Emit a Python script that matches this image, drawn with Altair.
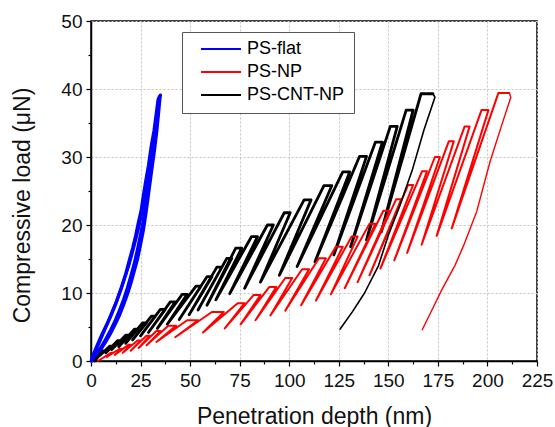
import altair as alt
import pandas as pd

# ---------------- PS-flat: near-elastic response, repeated load/unload traces ----------------
flat_up_depth = [0.0, 1.5, 3.5, 5.5, 8.0, 10.5, 13.0, 15.5, 17.5, 19.5, 21.0, 22.5, 24.0, 25.2,
                 26.5, 27.5, 29.0, 30.5, 31.8, 33.0, 33.8, 34.6]
flat_up_load = [0.0, 1.2, 2.6, 3.9, 5.4, 7.1, 8.9, 11.0, 12.8, 15.0, 16.6, 18.4, 20.5, 22.0,
                24.5, 26.3, 28.8, 31.8, 33.9, 36.6, 38.4, 39.0]
flat_mid_depth = [0.2, 2.5, 5.0, 7.5, 10.0, 12.5, 15.0, 17.0, 19.0, 20.8, 22.5, 24.0, 25.5,
                  27.0, 28.3, 29.6, 31.0, 32.4, 33.6, 34.4, 35.0]
flat_mid_load = [0.0, 1.6, 3.3, 5.0, 6.6, 8.4, 10.4, 12.2, 14.0, 15.9, 17.8, 19.6, 21.6, 23.8,
                 26.0, 28.3, 31.0, 33.8, 36.4, 38.6, 39.1]
flat_back_depth = [34.2, 33.4, 32.3, 31.2, 30.0, 28.7, 27.5, 26.2, 24.8, 23.3, 21.8, 20.0, 18.3,
                   16.4, 14.4, 12.3, 10.0, 7.6, 5.2, 2.8, 0.8]
flat_back_load = [38.2, 35.6, 32.8, 30.2, 27.6, 25.0, 22.7, 20.4, 18.3, 16.2, 14.3, 12.4, 10.7,
                  9.0, 7.5, 6.0, 4.6, 3.3, 2.1, 1.0, 0.2]
flat_down_depth = [34.9, 34.0, 33.2, 32.0, 30.8, 29.6, 28.6, 27.5, 26.4, 25.0, 23.5, 22.0, 20.3,
                   18.6, 16.6, 14.5, 12.2, 9.8, 7.2, 4.5, 1.8, 0.3]
flat_down_load = [39.0, 36.2, 33.8, 30.9, 28.4, 25.8, 23.6, 21.3, 19.2, 17.1, 15.0, 13.4, 11.6,
                  10.0, 8.4, 6.8, 5.4, 4.0, 2.7, 1.5, 0.5, 0.0]

# ---------------- PS-NP: multi-cycle partial unloading ----------------
np_start = 3.5
np_peak = [1.2, 1.8, 2.4, 3.0, 3.7, 4.4, 5.2, 6.0, 7.2, 8.5, 9.7, 10.9, 12.2, 13.5, 15.1, 16.8,
           18.3, 20.2, 22.1, 23.8, 25.9, 27.9, 30.0, 32.3, 34.5, 36.9, 39.4]
np_hold_start = [10.0, 14.5, 19.0, 23.5, 28.0, 33.0, 39.0, 48.5, 61.0, 74.0, 82.0, 90.0, 98.0,
                 106.5, 115.0, 123.5, 131.5, 140.5, 147.5, 154.0, 160.0, 167.0, 173.5, 180.5,
                 188.5, 197.0, 205.5]
np_hold_end = [11.0, 15.5, 20.0, 25.0, 29.5, 35.0, 43.0, 54.0, 67.0, 77.5, 85.5, 93.5, 101.5,
               110.0, 118.5, 127.0, 134.5, 143.5, 150.5, 156.5, 162.5, 169.5, 176.0, 183.0,
               191.0, 200.5, 211.0]
np_unload_depth = [8.0, 12.0, 16.0, 20.0, 24.0, 28.0, 33.0, 42.5, 56.5, 67.5, 75.5, 83.0, 90.5,
                   98.0, 106.0, 113.5, 121.0, 128.0, 134.5, 140.5, 146.0, 153.0, 159.5, 166.8,
                   174.4, 182.0]
np_unload_load = [0.6, 0.9, 1.2, 1.5, 1.9, 2.3, 2.8, 3.5, 4.2, 4.8, 5.4, 6.0, 6.7, 7.4, 8.2, 8.9,
                  9.8, 10.7, 11.6, 12.6, 13.6, 14.8, 15.9, 17.1, 18.4, 19.5]
np_final_depth = [211.0, 211.8, 207.0, 201.3, 194.6, 188.0, 183.7, 177.0, 172.0, 167.1]
np_final_load = [39.4, 38.8, 34.5, 29.3, 22.0, 17.0, 14.1, 10.5, 7.5, 4.6]

# ---------------- PS-CNT-NP: multi-cycle partial unloading ----------------
cnt_start = 1.9
cnt_peak = [1.5, 2.2, 3.0, 3.8, 4.7, 5.6, 6.6, 7.6, 8.7, 9.8, 11.0, 12.4, 13.8, 15.1, 16.6, 18.3,
            20.0, 21.8, 23.7, 25.8, 27.8, 30.1, 32.2, 34.5, 36.9, 39.3]
cnt_hold_start = [6.0, 9.5, 13.5, 17.5, 22.0, 26.0, 30.5, 35.0, 40.0, 46.0, 53.0, 58.5, 63.5, 68.5,
                  73.0, 81.0, 89.0, 97.5, 107.5, 117.5, 127.0, 135.5, 143.5, 151.0, 159.0, 166.5]
cnt_hold_end = [7.0, 11.0, 15.0, 19.0, 23.5, 28.0, 32.5, 37.5, 42.5, 48.5, 55.5, 61.0, 66.0, 71.0,
                76.0, 84.0, 92.0, 100.5, 111.0, 121.5, 130.5, 139.0, 147.0, 154.5, 162.5, 172.5]
cnt_unload_depth = [4.5, 7.5, 10.5, 14.0, 17.5, 21.0, 25.0, 29.0, 33.5, 38.5, 44.5, 49.5, 54.0,
                    58.5, 63.0, 70.0, 77.5, 85.5, 95.0, 104.0, 113.0, 122.5, 131.0, 139.0, 146.5]
cnt_unload_load = [0.8, 1.2, 1.7, 2.1, 2.6, 3.1, 3.7, 4.2, 4.8, 5.4, 6.1, 6.8, 7.5, 8.2, 9.0, 9.9,
                   10.7, 11.6, 12.6, 13.9, 14.6, 15.6, 16.8, 17.8, 19.0]
cnt_final_depth = [172.5, 173.5, 168.0, 162.0, 156.0, 150.0, 145.0, 138.0, 132.0, 125.7]
cnt_final_load = [39.3, 38.8, 34.0, 28.0, 23.0, 18.5, 14.0, 10.0, 7.3, 4.7]

series_names = ["PS-flat", "PS-NP", "PS-CNT-NP"]
series_colors = ["#0000ff", "#ff0000", "#000000"]

x_major = [0, 25, 50, 75, 100, 125, 150, 175, 200, 225]
x_minor = [12.5, 37.5, 62.5, 87.5, 112.5, 137.5, 162.5, 187.5, 212.5]
y_major = [0, 10, 20, 30, 40, 50]
y_minor = [5, 15, 25, 35, 45]


def cycle_rows(name, start, peak, hold_start, hold_end, un_d, un_l):
    """Load to each peak, hold, then partially unload before the next cycle."""
    rows = [(start, 0.0)]
    for k in range(len(peak)):
        rows.append((hold_start[k], peak[k]))
        rows.append((hold_end[k], peak[k]))
        if k < len(un_d):
            rows.append((un_d[k], un_l[k]))
    return pd.DataFrame({"series": name, "step": range(len(rows)),
                         "depth": [r[0] for r in rows], "load": [r[1] for r in rows]})


def path_rows(name, depth, load):
    return pd.DataFrame({"series": name, "step": range(len(depth)), "depth": depth, "load": load})


flat_up_df = path_rows("PS-flat", flat_up_depth, flat_up_load)
flat_mid_df = path_rows("PS-flat", flat_mid_depth, flat_mid_load)
flat_back_df = path_rows("PS-flat", flat_back_depth, flat_back_load)
flat_down_df = path_rows("PS-flat", flat_down_depth, flat_down_load)
np_df = cycle_rows("PS-NP", np_start, np_peak, np_hold_start, np_hold_end,
                   np_unload_depth, np_unload_load)
np_final_df = path_rows("PS-NP", np_final_depth, np_final_load)
cnt_df = cycle_rows("PS-CNT-NP", cnt_start, cnt_peak, cnt_hold_start, cnt_hold_end,
                    cnt_unload_depth, cnt_unload_load)
cnt_final_df = path_rows("PS-CNT-NP", cnt_final_depth, cnt_final_load)

FONT = "Liberation Sans"
x_scale = alt.Scale(domain=[0, 225], nice=False, zero=False)
y_scale = alt.Scale(domain=[0, 50], nice=False, zero=False)
color_scale = alt.Scale(domain=series_names, range=series_colors)

x_axis_major = alt.Axis(values=x_major, title="Penetration depth (nm)", orient="bottom",
                        grid=True, gridColor="#c4c4c4", gridDash=[2, 2], gridWidth=1,
                        tickSize=5, tickWidth=1.2, tickColor="black", labelPadding=5,
                        labelFontSize=19, labelFont=FONT, labelColor="#111",
                        titleFontSize=23, titleFont=FONT, titleFontWeight="normal",
                        titleColor="#111", titlePadding=15, domainColor="black",
                        domainWidth=1.5, labelFlush=False)
y_axis_major = alt.Axis(values=y_major, title="Compressive load (\u03bcN)", orient="left",
                        grid=True, gridColor="#c4c4c4", gridDash=[2, 2], gridWidth=1,
                        tickSize=5, tickWidth=1.2, tickColor="black", labelPadding=4,
                        labelFontSize=19, labelFont=FONT, labelColor="#111",
                        titleFontSize=23, titleFont=FONT, titleFontWeight="normal",
                        titleColor="#111", titlePadding=26, titleY=184, domainColor="black",
                        domainWidth=1.5, labelFlush=False)
x_axis_minor = alt.Axis(values=x_minor, orient="bottom", labels=False, title=None, grid=False,
                        tickSize=3, tickWidth=1.2, tickColor="black", domain=False)
y_axis_minor = alt.Axis(values=y_minor, orient="left", labels=False, title=None, grid=False,
                        tickSize=3, tickWidth=1.2, tickColor="black", domain=False)

legend = alt.Legend(title=None, orient="none", legendX=91, legendY=11, symbolType="stroke",
                    symbolSize=1600, symbolStrokeWidth=2, clipHeight=16, rowPadding=5,
                    labelFont=FONT, labelFontSize=18, labelColor="black", labelOffset=5,
                    fillColor="white", strokeColor="#555", padding=9, symbolOffset=9)

# Base layer carrying the major axes and the legend
axes_layer = alt.Chart(flat_up_df).mark_line(strokeWidth=3.2, strokeJoin="round").encode(
    x=alt.X("depth:Q", scale=x_scale, axis=x_axis_major),
    y=alt.Y("load:Q", scale=y_scale, axis=y_axis_major),
    color=alt.Color("series:N", scale=color_scale, legend=legend),
    order="step:Q",
)

minor_layer = alt.Chart(pd.DataFrame({"depth": [0.0], "load": [0.0]})).mark_point(opacity=0).encode(
    x=alt.X("depth:Q", scale=x_scale, axis=x_axis_minor),
    y=alt.Y("load:Q", scale=y_scale, axis=y_axis_minor),
)


def curve(df, width):
    return alt.Chart(df).mark_line(strokeWidth=width, strokeJoin="round", strokeCap="round").encode(
        x=alt.X("depth:Q", scale=x_scale, axis=None),
        y=alt.Y("load:Q", scale=y_scale, axis=None),
        color=alt.Color("series:N", scale=color_scale, legend=None),
        order="step:Q",
    )


chart = alt.layer(
    axes_layer,
    minor_layer,
    curve(flat_mid_df, 3.2),
    curve(flat_back_df, 3.2),
    curve(flat_down_df, 3.2),
    curve(cnt_df, 2.8),
    curve(np_df, 2.0),
    curve(np_final_df, 1.4),
    curve(cnt_final_df, 1.6),
).resolve_axis(x="independent", y="independent").properties(
    width=446, height=340,
    padding={"left": 91, "top": 21, "right": 18, "bottom": 66},
    autosize=alt.AutoSizeParams(type="none"),
).configure_view(stroke="black", strokeWidth=1.5)

chart.save("out.html", embed_options={"renderer": "svg", "actions": False})
